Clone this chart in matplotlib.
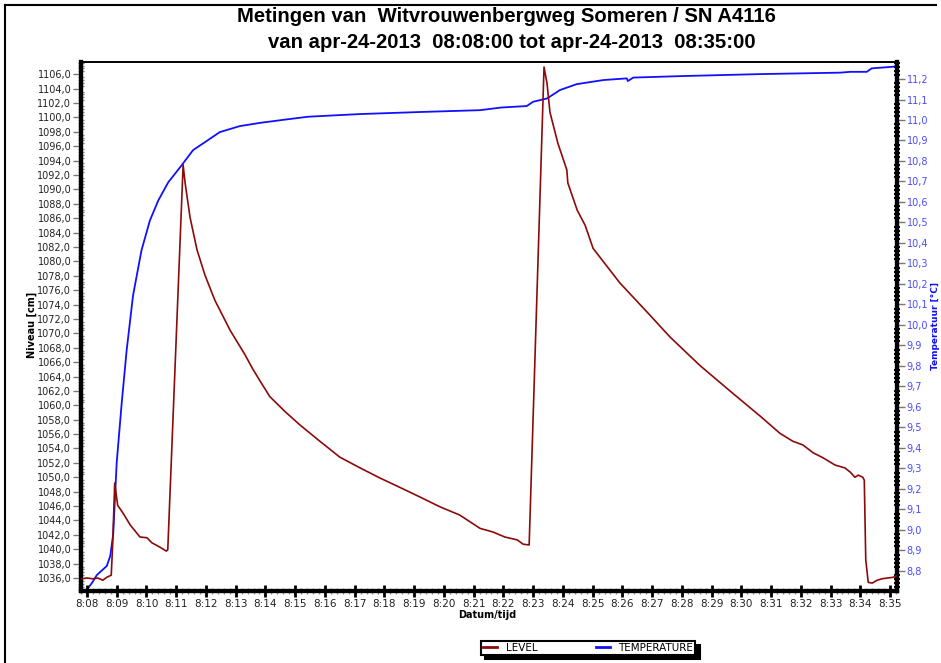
import matplotlib
matplotlib.use("Agg")
import matplotlib.pyplot as plt
from matplotlib.ticker import MultipleLocator, FuncFormatter
from matplotlib.lines import Line2D

# ---- data ----
level_time = ["08:07:50", "08:08:00", "08:08:12", "08:08:22", "08:08:32", "08:08:40",
              "08:08:49", "08:08:52", "08:08:56", "08:09:02", "08:09:13", "08:09:27",
              "08:09:47", "08:10:01", "08:10:11", "08:10:27", "08:10:40", "08:10:43",
              "08:11:14", "08:11:18", "08:11:28", "08:11:42", "08:11:58", "08:12:18",
              "08:12:49", "08:13:19", "08:13:34", "08:13:49", "08:14:09", "08:14:40",
              "08:15:10", "08:15:50", "08:16:30", "08:17:11", "08:17:51", "08:18:31",
              "08:19:12", "08:19:52", "08:20:32", "08:21:13", "08:21:39", "08:22:03",
              "08:22:28", "08:22:40", "08:22:52", "08:23:22", "08:23:28", "08:23:34",
              "08:23:50", "08:24:08", "08:24:10", "08:24:29", "08:24:45", "08:25:01",
              "08:25:55", "08:26:56", "08:27:36", "08:28:37", "08:29:37", "08:30:38",
              "08:31:18", "08:31:44", "08:32:04", "08:32:25", "08:32:45", "08:33:09",
              "08:33:29", "08:33:40", "08:33:49", "08:33:56", "08:34:05", "08:34:08",
              "08:34:11", "08:34:16", "08:34:24", "08:34:34", "08:34:44", "08:34:54",
              "08:35:06", "08:35:14"]
level_cm = [1035.9, 1036.0, 1035.9, 1036.0, 1035.7, 1036.1,
            1036.4, 1040.9, 1049.2, 1046.1, 1045.0, 1043.4,
            1041.7, 1041.6, 1040.9, 1040.3, 1039.75, 1039.9,
            1093.4, 1090.9, 1086.1, 1081.6, 1078.1, 1074.6,
            1070.4, 1067.0, 1065.1, 1063.4, 1061.2, 1059.1,
            1057.25, 1055.0, 1052.8, 1051.3, 1049.9, 1048.6,
            1047.25, 1045.9, 1044.75, 1042.9, 1042.4, 1041.7,
            1041.3, 1040.7, 1040.6, 1107.0, 1104.75, 1100.7,
            1096.4, 1092.7, 1090.9, 1087.1, 1085.0, 1081.8,
            1077.0, 1072.5, 1069.5, 1065.5, 1062.0, 1058.5,
            1056.1, 1055.0, 1054.5, 1053.4, 1052.7, 1051.7,
            1051.3, 1050.7, 1050.0, 1050.3, 1050.0, 1049.6,
            1038.5, 1035.4, 1035.3, 1035.7, 1035.9, 1036.0,
            1036.1, 1036.3]

temp_time = ["08:07:58", "08:08:10", "08:08:20", "08:08:40", "08:08:47", "08:08:53",
             "08:09:00", "08:09:10", "08:09:20", "08:09:33", "08:09:50", "08:10:07",
             "08:10:24", "08:10:44", "08:11:11", "08:11:34", "08:11:55", "08:12:28",
             "08:13:08", "08:13:49", "08:14:43", "08:15:26", "08:17:11", "08:19:12",
             "08:21:13", "08:21:56", "08:22:47", "08:23:00", "08:23:28", "08:23:54",
             "08:24:28", "08:25:22", "08:26:09", "08:26:11", "08:26:22", "08:27:56",
             "08:30:38", "08:33:19", "08:33:40", "08:34:13", "08:34:23", "08:35:07",
             "08:35:16"]
temp_c = [8.702, 8.741, 8.78, 8.824, 8.873, 8.98,
          9.328, 9.616, 9.875, 10.144, 10.364, 10.51,
          10.608, 10.696, 10.779, 10.853, 10.887, 10.941,
          10.97, 10.986, 11.003, 11.016, 11.029, 11.039,
          11.048, 11.061, 11.068, 11.089, 11.105, 11.146,
          11.175, 11.195, 11.203, 11.19, 11.207, 11.214,
          11.224, 11.231, 11.235, 11.235, 11.252, 11.26,
          11.268]


def to_min(s):
    h, m, sec = [int(v) for v in s.split(":")]
    return (h - 8) * 60 + m + sec / 60.0


lt = [to_min(s) for s in level_time]
tt = [to_min(s) for s in temp_time]

RED = "#8b0a0a"
BLUE = "#1010ff"
LBLUE = "#4a4aff"
W, H = 941, 663
L, R, T, B = 81, 897, 62, 591

fig = plt.figure(figsize=(9.41, 6.63), dpi=100)
ax = fig.add_axes([L / W, 1 - B / H, (R - L) / W, (B - T) / H])
ax2 = ax.twinx()

ax.plot(lt, level_cm, color=RED, lw=1.2, zorder=3)
ax2.plot(tt, temp_c, color=BLUE, lw=1.3)
ax.set_zorder(ax2.get_zorder() + 1)
ax.patch.set_visible(False)

ax.set_xlim(to_min("08:07:48"), to_min("08:35:14"))
ax.set_ylim(1034.2, 1107.7)
ax2.set_ylim(8.702, 11.283)

# x axis
ax.xaxis.set_major_locator(MultipleLocator(1))
ax.xaxis.set_minor_locator(MultipleLocator(0.2))
ax.xaxis.set_major_formatter(FuncFormatter(lambda v, p: "%d:%02d" % (8 + int(round(v)) // 60, int(round(v)) % 60)))
ax.tick_params(axis="x", which="major", direction="inout", length=9, width=2, labelsize=7.5, pad=1,
               color="black", labelcolor="#222222")
ax.tick_params(axis="x", which="minor", direction="inout", length=4, width=1, color="#888888")

# left y
ax.yaxis.set_major_locator(MultipleLocator(2))
ax.yaxis.set_minor_locator(MultipleLocator(0.4))
ax.yaxis.set_major_formatter(FuncFormatter(lambda v, p: ("%.1f" % v).replace(".", ",")))
ax.tick_params(axis="y", which="major", direction="out", length=6, width=1, color="#777777",
               labelsize=7, labelcolor="#222222", pad=1)
ax.tick_params(axis="y", which="minor", direction="inout", length=4, width=1, color="#777777")

# right y
ax2.yaxis.set_major_locator(MultipleLocator(0.1))
ax2.yaxis.set_minor_locator(MultipleLocator(0.02))
ax2.yaxis.set_major_formatter(FuncFormatter(lambda v, p: ("%.1f" % v).replace(".", ",")))
ax2.tick_params(axis="y", which="major", direction="out", length=6, width=1, color="#777777",
                labelsize=7, labelcolor=LBLUE, pad=1)
ax2.tick_params(axis="y", which="minor", direction="inout", length=5, width=1.5, color="black")

for a in (ax, ax2):
    for side in ("left", "right", "bottom"):
        a.spines[side].set_linewidth(3)
    a.spines["top"].set_linewidth(1.2)

ax.set_xlabel("Datum/tijd", fontsize=7, fontweight="bold", labelpad=0)
ax.xaxis.set_label_coords((487 - L) / (R - L), -(610 - B) / (B - T))
ax.set_ylabel("Niveau [cm]", fontsize=7, fontweight="bold")
ax.yaxis.set_label_coords(-(L - 37) / (R - L), (B - 325) / (B - T))
ax2.set_ylabel("Temperatuur [\u00b0C]", fontsize=6.5, fontweight="bold", color=BLUE)
ax2.yaxis.set_label_coords((931 - L) / (R - L), (B - 326) / (B - T))

fig.text(506 / W, 1 - 17 / H, "Metingen van  Witvrouwenbergweg Someren / SN A4116",
         ha="center", va="center", fontsize=14.6, fontweight="bold", family="Liberation Sans")
fig.text(512 / W, 1 - 42 / H, "van apr-24-2013  08:08:00 tot apr-24-2013  08:35:00",
         ha="center", va="center", fontsize=14.6, fontweight="bold", family="Liberation Sans")

# page frame (left and top edges)
fig.add_artist(Line2D([5 / W, 5 / W], [0, 1 - 5 / H], color="black", lw=1.5, transform=fig.transFigure))
fig.add_artist(Line2D([5 / W, 936 / W], [1 - 5 / H, 1 - 5 / H], color="black", lw=1.5, transform=fig.transFigure))

handles = [Line2D([], [], color=RED, lw=2), Line2D([], [], color=BLUE, lw=2)]
leg = fig.legend(handles, ["LEVEL", "TEMPERATURE"], loc="center",
                 bbox_to_anchor=(588 / W, 1 - 648 / H), ncol=2, fontsize=7.5,
                 handlelength=1.4, handletextpad=0.8, columnspacing=5.6,
                 borderpad=0.2, fancybox=False, framealpha=1,
                 shadow={"ox": 3, "oy": -3, "color": "black", "alpha": 1})
leg.get_frame().set_edgecolor("black")
leg.get_frame().set_linewidth(1.5)

fig.savefig("out.png", dpi=100)
